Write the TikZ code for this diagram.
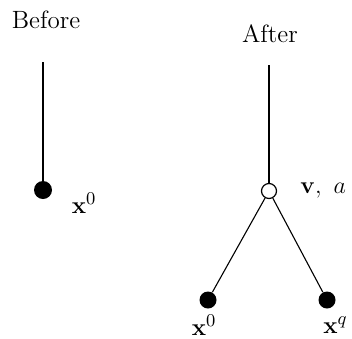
\documentclass[tikz,border=0pt]{standalone}
\begin{document}
\begin{tikzpicture}[x=0.5pt,y=-0.5pt,
  filled/.style={circle,fill=black,inner sep=0pt,minimum size=9pt},
  hollow/.style={circle,draw=black,fill=white,line width=0.6pt,inner sep=0pt,minimum size=7.5pt},
  edge/.style={line width=0.55pt},
  lbl/.style={inner sep=0pt,font=\fontsize{12.5}{15}\selectfont}]
\useasboundingbox (0,0) rectangle (352,338);
% Before
\node[lbl] (tb) at (46,20) {Before};
\coordinate (ctop) at (43,62);
\node[filled] (b0) at (43,190) {};
\draw[edge] (ctop) -- (b0);
\node[lbl] (lb0) at (84,203) {$\mathbf{x}^0$};
% After
\node[lbl] (ta) at (270,34) {After};
\coordinate (atop) at (269,65);
\node[hollow] (v) at (269,191) {};
\draw[edge] (atop) -- (v);
\node[lbl,anchor=west] (lv) at (300,190) {$\mathbf{v},\ a$};
\node[filled,minimum size=8.5pt] (a0) at (208,300) {};
\node[filled,minimum size=8.5pt] (aq) at (327,300) {};
\draw[edge] (v) -- (a0);
\draw[edge] (v) -- (aq);
\node[lbl] (la0) at (204,325) {$\mathbf{x}^0$};
\node[lbl,anchor=south east] (laq) at (348,334) {$\mathbf{x}^q$};
\end{tikzpicture}
\end{document}
